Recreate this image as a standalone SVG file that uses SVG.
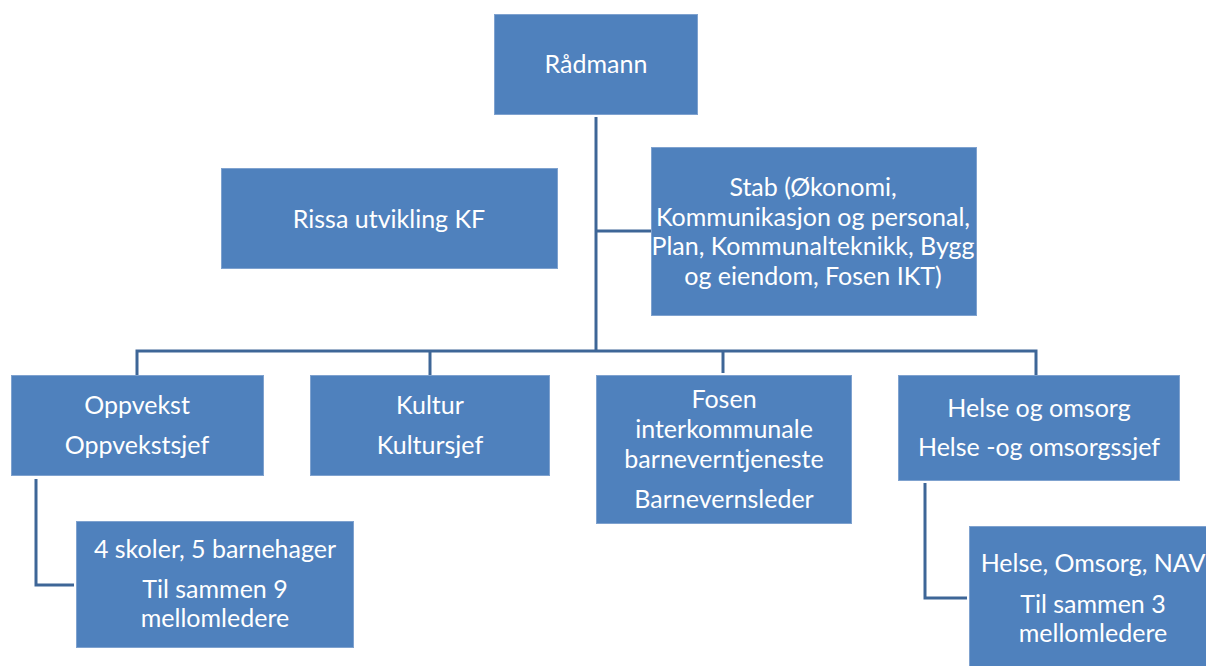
<svg xmlns="http://www.w3.org/2000/svg" width="1206" height="666" viewBox="0 0 1206 666">
<style>
.box{fill:#4F81BD;stroke:#7FA2CF;stroke-width:1}
.t{font-family:Lato,"Open Sans",sans-serif;font-size:25px;fill:#FFFFFF;text-anchor:middle}
.c{fill:none;stroke:#3E6697;stroke-width:3}
</style>
<rect width="1206" height="666" fill="#FFFFFF"/>
<g id="connectors">
<path class="c" d="M596,117 V351"/>
<path class="c" d="M596,231 H651"/>
<path class="c" d="M137,375 V351 H1036 V375"/>
<path class="c" d="M430,351 V375"/>
<path class="c" d="M723,351 V373"/>
<path class="c" d="M36,479 V585 H74"/>
<path class="c" d="M925,483 V598 H967"/>
</g>
<g id="radmann"><rect class="box" x="494.5" y="14.5" width="203" height="100"/><text class="t" x="596" y="73">Rådmann</text></g>
<g id="rissa"><rect class="box" x="221.5" y="168.5" width="336" height="100"/><text class="t" x="389" y="228">Rissa utvikling KF</text></g>
<g id="stab"><rect class="box" x="651.5" y="147.5" width="325" height="168"/>
<text class="t" x="813" y="196">Stab (Økonomi,</text>
<text class="t" x="813" y="226">Kommunikasjon og personal,</text>
<text class="t" x="813" y="255">Plan, Kommunalteknikk, Bygg</text>
<text class="t" x="813" y="285">og eiendom, Fosen IKT)</text></g>
<g id="oppvekst"><rect class="box" x="11.5" y="375.5" width="252" height="100"/>
<text class="t" x="137" y="414">Oppvekst</text><text class="t" x="137" y="454">Oppvekstsjef</text></g>
<g id="kultur"><rect class="box" x="310.5" y="375.5" width="239" height="100"/>
<text class="t" x="430" y="414">Kultur</text><text class="t" x="430" y="454">Kultursjef</text></g>
<g id="fosen"><rect class="box" x="596.5" y="375.5" width="255" height="148"/>
<text class="t" x="724" y="408">Fosen</text><text class="t" x="724" y="438">interkommunale</text><text class="t" x="724" y="468">barneverntjeneste</text><text class="t" x="724" y="508">Barnevernsleder</text></g>
<g id="helse"><rect class="box" x="898.5" y="375.5" width="281" height="105"/>
<text class="t" x="1039" y="417">Helse og omsorg</text><text class="t" x="1039" y="456">Helse -og omsorgssjef</text></g>
<g id="skoler"><rect class="box" x="76.5" y="521.5" width="277" height="126"/>
<text class="t" x="215" y="558">4 skoler, 5 barnehager</text><text class="t" x="215" y="598">Til sammen 9</text><text class="t" x="215" y="627">mellomledere</text></g>
<g id="helse2"><rect class="box" x="969.5" y="526.5" width="240" height="142"/>
<text class="t" x="1093" y="572">Helse, Omsorg, NAV</text><text class="t" x="1093" y="613">Til sammen 3</text><text class="t" x="1093" y="642">mellomledere</text></g>
</svg>
